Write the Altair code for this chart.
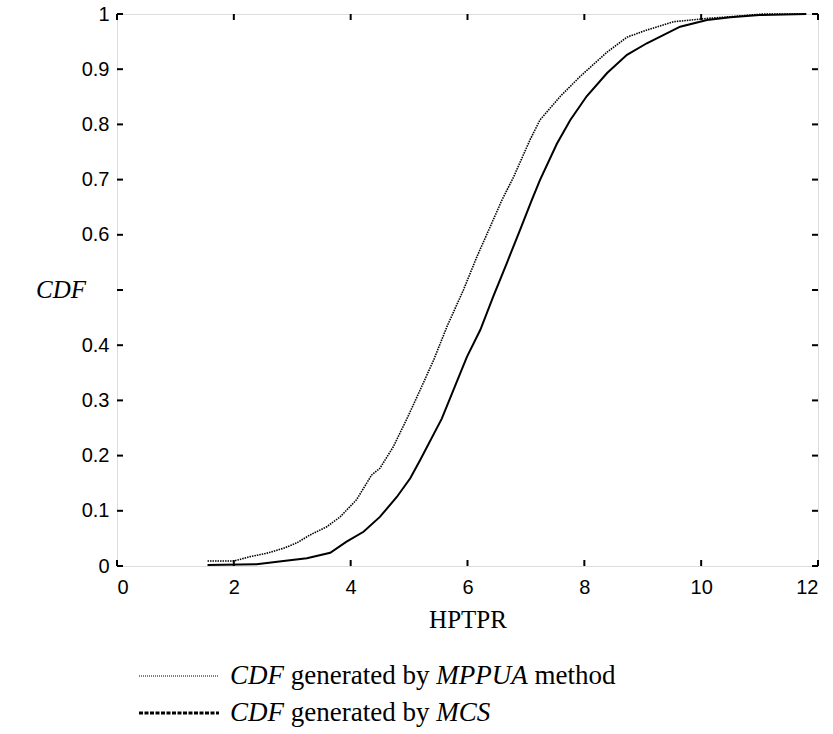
import altair as alt
import pandas as pd

# ---- data ----
mppua_x = [1.55, 2.0, 2.28, 2.56, 2.85, 3.08, 3.30, 3.59, 3.82, 4.10, 4.36, 4.50, 4.73, 4.96,
           5.19, 5.42, 5.65, 5.93, 6.16, 6.39, 6.59, 6.79, 7.07, 7.24, 7.59, 7.93, 8.39, 8.73,
           9.07, 9.53, 10.10, 10.50, 11.06, 11.8]
mppua_p = [0.009, 0.009, 0.017, 0.023, 0.032, 0.042, 0.056, 0.071, 0.089, 0.120, 0.165, 0.177,
           0.216, 0.266, 0.319, 0.373, 0.434, 0.500, 0.560, 0.615, 0.663, 0.705, 0.772, 0.808,
           0.851, 0.887, 0.931, 0.958, 0.971, 0.986, 0.992, 0.995, 1.0, 1.0]

mcs_x = [1.55, 2.39, 2.85, 3.25, 3.65, 3.93, 4.22, 4.50, 4.79, 5.02, 5.19, 5.56, 5.76, 5.99,
         6.22, 6.44, 6.67, 6.90, 7.10, 7.24, 7.53, 7.76, 8.04, 8.39, 8.73, 9.07, 9.64, 10.10,
         10.50, 11.0, 11.8]
mcs_p = [0.002, 0.003, 0.009, 0.014, 0.024, 0.044, 0.062, 0.089, 0.125, 0.159, 0.192, 0.267,
         0.319, 0.379, 0.428, 0.488, 0.548, 0.609, 0.663, 0.699, 0.765, 0.808, 0.851, 0.893,
         0.926, 0.947, 0.977, 0.989, 0.994, 0.998, 1.0]

x_ticks = [0, 2, 4, 6, 8, 10, 12]
y_ticks = [0, 0.1, 0.2, 0.3, 0.4, 0.5, 0.6, 0.7, 0.8, 0.9, 1.0]
y_labelled = [0, 0.1, 0.2, 0.3, 0.4, 0.6, 0.7, 0.8, 0.9, 1.0]

x_title = "HPTPR"
y_title = "CDF"

W, H = 701, 552
TICK = 6
SERIF = "Liberation Serif"
SANS = "Liberation Sans"

df_m = pd.DataFrame({"x": mppua_x, "p": mppua_p})
df_c = pd.DataFrame({"x": mcs_x, "p": mcs_p})
df_xt = pd.DataFrame({"x": x_ticks})
df_yt = pd.DataFrame({"p": y_ticks})

xs = alt.Scale(domain=[0, 12], nice=False, zero=False)
ys = alt.Scale(domain=[0, 1], nice=False, zero=False)

x_axis = alt.Axis(values=x_ticks, title=x_title, ticks=False, domain=False, grid=False,
                  labelFont=SANS, labelFontSize=20, labelColor="black", labelPadding=11,
                  titleFont=SERIF, titleFontSize=25, titleFontWeight="normal",
                  titleColor="black", titlePadding=10)
y_axis = alt.Axis(values=y_labelled, format="~g", title=None, ticks=False, domain=False,
                  grid=False, labelFont=SANS, labelFontSize=20, labelColor="black",
                  labelPadding=8)

X = alt.X("x:Q", scale=xs, axis=x_axis)
Y = alt.Y("p:Q", scale=ys, axis=y_axis)

line_m = alt.Chart(df_m).mark_line(color="black", strokeWidth=1.6, strokeDash=[1.5, 1]).encode(
    x=X, y=Y)
line_c = alt.Chart(df_c).mark_line(color="black", strokeWidth=2).encode(x=X, y=Y)

# inward ticks on all four sides
tick_bottom = alt.Chart(df_xt).mark_rule(color="black", strokeWidth=2).encode(
    x=X, y=alt.value(H), y2=alt.value(H - TICK))
tick_top = alt.Chart(df_xt).mark_rule(color="black", strokeWidth=2).encode(
    x=X, y=alt.value(0), y2=alt.value(TICK))
tick_left = alt.Chart(df_yt).mark_rule(color="black", strokeWidth=2).encode(
    y=Y, x=alt.value(0), x2=alt.value(TICK))
tick_right = alt.Chart(df_yt).mark_rule(color="black", strokeWidth=2).encode(
    y=Y, x=alt.value(W), x2=alt.value(W - TICK))

# y title, horizontal, level with 0.5
ytitle = alt.Chart(pd.DataFrame({"p": [0.5]})).mark_text(
    font=SERIF, fontSize=25, fontStyle="italic", align="center", baseline="middle",
    color="black").encode(y=Y, x=alt.value(-56), text=alt.value(y_title))

# manual legend below the plot
LY1, LY2 = 662, 699
LX0, LX1 = 22, 102
TX = 113
FS = 27


def w(em):
    return em * FS


def seg(text, x, y, italic):
    return alt.Chart(pd.DataFrame({"t": [text]})).mark_text(
        font=SERIF, fontSize=FS, fontStyle="italic" if italic else "normal",
        align="left", baseline="middle", color="black").encode(
        x=alt.value(x), y=alt.value(y), text="t:N")


leg_line1 = alt.Chart(pd.DataFrame({"a": [0]})).mark_rule(
    color="black", strokeWidth=1.2, strokeDash=[1, 1]).encode(
    x=alt.value(LX0), x2=alt.value(LX1), y=alt.value(LY1))
leg_line2 = alt.Chart(pd.DataFrame({"a": [0]})).mark_rule(
    color="black", strokeWidth=3, strokeDash=[4, 1.5]).encode(
    x=alt.value(LX0), x2=alt.value(LX1), y=alt.value(LY2))

SP = 0.25
CDF_W = 2.0
GEN_W = 5.137
MPPUA_W = 3.388
xa = TX
xb = xa + w(CDF_W + SP)
xc = xb + w(GEN_W + SP)
xd = xc + w(MPPUA_W + SP)
segs = [
    seg("CDF", xa, LY1, True),
    seg("generated by", xb, LY1, False),
    seg("MPPUA", xc, LY1, True),
    seg("method", xd, LY1, False),
    seg("CDF", xa, LY2, True),
    seg("generated by", xb, LY2, False),
    seg("MCS", xc, LY2, True),
]

chart = alt.layer(
    line_m, line_c, tick_bottom, tick_top, tick_left, tick_right, ytitle,
    leg_line1, leg_line2, *segs
).properties(
    width=W, height=H,
    autosize=alt.AutoSizeParams(type="none"),
    padding={"left": 117, "top": 14, "right": 15, "bottom": 168},
).configure_view(stroke="black", strokeWidth=2).configure(background="white")

chart.save("out.html", embed_options={"renderer": "svg", "actions": False})
